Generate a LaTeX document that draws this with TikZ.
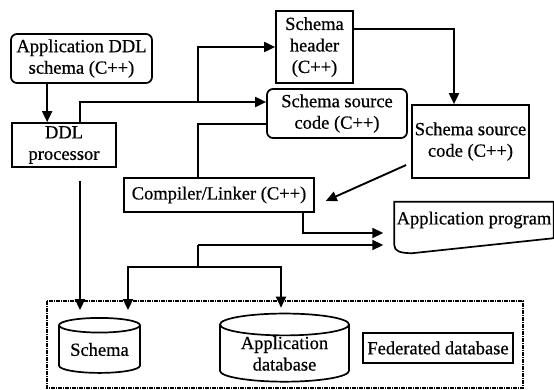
\documentclass[tikz,border=0pt]{standalone}
\usepackage{fontspec}
\setmainfont[FakeBold=0.6]{Liberation Serif}
\usetikzlibrary{arrows.meta}
\usetikzlibrary{shapes.geometric}
\usetikzlibrary{calc}
\usetikzlibrary{positioning}

\begin{document}
\begin{tikzpicture}[
        x=1pt, y=-1pt,
        every node/.style={font=\fontsize{18.5}{21.5}\selectfont, align=center},
        block/.style={rectangle, draw=black, line width=1.7pt, inner sep=2pt},
        soft/.style={block, rounded corners=6pt},
        store/.style={cylinder, shape border rotate=90, aspect=0.25, draw=black, line width=1.7pt, inner sep=0pt},
        flow/.style={line width=1.9pt},
        >={Triangle[length=11pt,width=10pt]}
    ]

        \useasboundingbox (0,0) rectangle (554,390);

        % Source side
        \node[soft, minimum width=141pt, minimum height=49pt] (appddl) at (81.5,58.5) {Application DDL\\schema (C++)};
        \node[block, minimum width=104pt, minimum height=44pt] (ddlproc) at (64,145) {DDL\\processor};

        % Generated schema files
        \node[block, minimum width=77pt, minimum height=72pt] (header) at (314.5,47) {Schema\\header\\(C++)};
        \node[soft, minimum width=140pt, minimum height=49pt] (srcmid) at (337,113.5) {Schema source\\code (C++)};
        \node[block, minimum width=117pt, minimum height=73pt, inner sep=1pt] (srcright) at (470.5,141.5) {Schema source\\code (C++)};

        % Build step
        \node[block, minimum width=190pt, minimum height=34pt] (compiler) at (219,195) {Compiler/Linker (C++)};
        \node[minimum width=159pt, minimum height=36pt, inner sep=1pt] (appprog) at (474,220) {Application program};
        \draw[line width=1.7pt] (appprog.south east) -- (appprog.north east) -- (appprog.north west)
            -- ($(appprog.south west)+(0,7)$)
            .. controls ($(appprog.south west)+(0,13)$) and ($(appprog.south west)+(6,15)$) .. ($(appprog.south west)+(18,15)$)
            -- cycle;

        % Federated database
        \draw[line width=1.1pt, dash pattern=on 4pt off 1pt on 1pt off 1pt] (47,301) rectangle (523,388);
        \node[store, minimum width=81pt, minimum height=55pt] (schema) at (99.5,349.5) {Schema};
        \node[store, minimum width=129pt, minimum height=67pt] (appdb) at (284.5,353.5) {Application\\database};
        \node[block, line width=2.8pt, minimum width=150pt, minimum height=30pt] (fed) at (438,348) {Federated database};

        % junctions
        \coordinate (fork1) at (198,102);
        \coordinate (fork2) at (198,245);
        \coordinate (fork3) at (198,267);

        % DDL → processor → schema files
        \draw[flow, ->] ([xshift=36pt]ddlproc.north west |- appddl.south) -- ([xshift=36pt]ddlproc.north west);
        \draw[flow, ->] ([xshift=16pt]ddlproc.north) |- ([yshift=11.5pt]srcmid.west);
        \draw[flow, ->] (fork1) |- (header.west);
        \draw[flow, ->] ([yshift=18pt]header.east) -| ([xshift=-16.5pt]srcright.north);

        % schema files → compiler
        \draw[flow, ->, shorten <=5.5pt, shorten >=12pt] ([yshift=-21.3pt]srcright.west) -- ([yshift=-10.8pt]compiler.east);
        \draw[flow] ([yshift=-10.5pt]srcmid.west) -| ([xshift=-21pt]compiler.north);

        % compiler → application program
        \draw[flow, ->, shorten >=11pt] ([xshift=84pt]compiler.south) |- ([yshift=-13pt]appprog.west);
        \draw[flow, ->, shorten >=11pt] (fork2) -- (fork2 -| appprog.west);

        % into the database
        \draw[flow] (fork2) -- (fork3);
        \draw[flow, ->, shorten >=7pt] (fork3) -| ([xshift=28.5pt]schema.north);
        \draw[flow, ->, shorten >=5pt] (fork3) -| ([xshift=-3.5pt]appdb.north);
        \draw[flow, ->, shorten <=13pt, shorten >=7pt] ([xshift=16pt]ddlproc.south) -- ([xshift=16pt]ddlproc.south |- schema.north);

    \end{tikzpicture}
\end{document}
